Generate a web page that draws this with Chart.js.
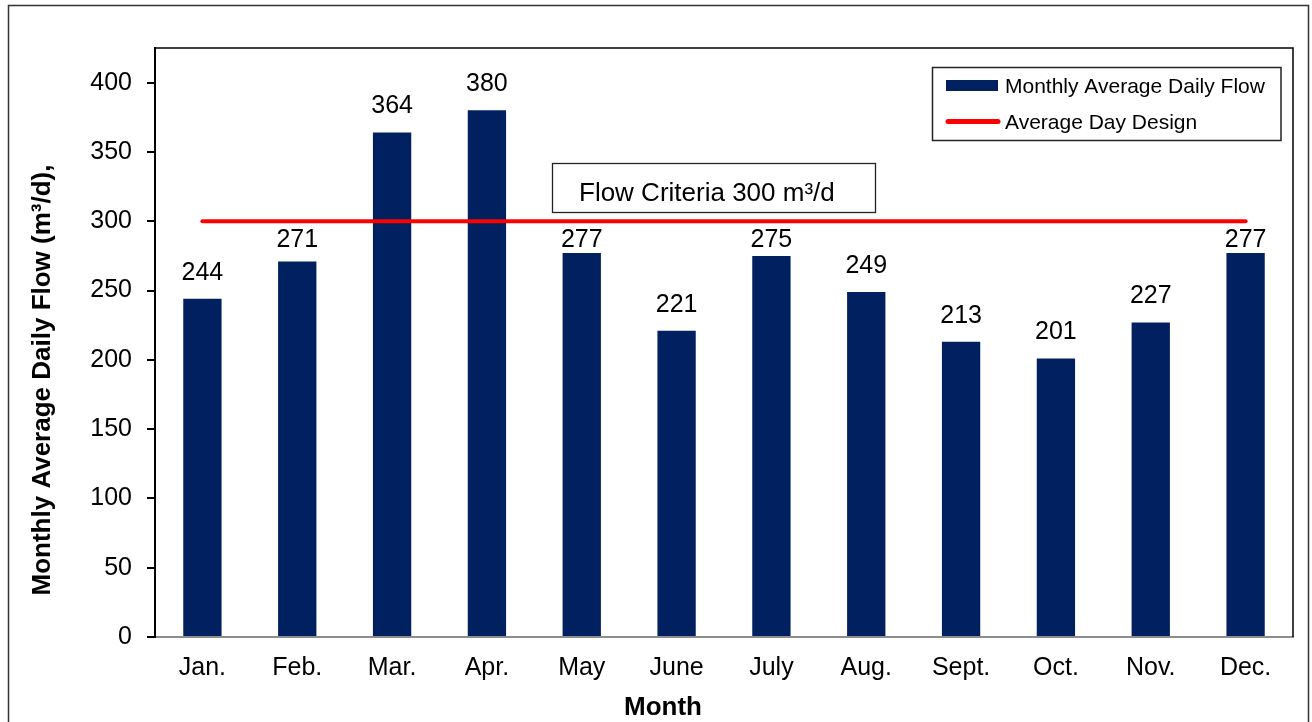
<!DOCTYPE html>
<html>
<head>
<meta charset="utf-8">
<title>Monthly Average Daily Flow</title>
<script src="https://cdn.jsdelivr.net/npm/chart.js@4.4.1/dist/chart.umd.min.js"></script>
<style>
  html, body { margin: 0; padding: 0; background: #ffffff; }
  #wrap { width: 1312px; height: 722px; position: relative; }
</style>
</head>
<body>
<div id="wrap"><canvas id="flowChart" width="1312" height="722"></canvas></div>
<script>
// Monthly flow records (m³/d)
const months = ['Jan.', 'Feb.', 'Mar.', 'Apr.', 'May', 'June', 'July', 'Aug.', 'Sept.', 'Oct.', 'Nov.', 'Dec.'];
const monthlyAverageDailyFlow = [244, 271, 364, 380, 277, 221, 275, 249, 213, 201, 227, 277];
const averageDayDesign = [300, 300, 300, 300, 300, 300, 300, 300, 300, 300, 300, 300];
const yTickValues = [0, 50, 100, 150, 200, 250, 300, 350, 400];
const criteriaText = 'Flow Criteria 300 m³/d';

const FONT = "'Liberation Sans', Arial, Helvetica, sans-serif";
const NAVY = '#002060';
const RED = '#ff0000';

Chart.defaults.font.family = FONT;
Chart.defaults.color = '#000000';

// Page frame, plot frame, value labels, annotation box, legend and axis titles
const decorations = {
  id: 'decorations',
  beforeDraw(chart) {
    const ctx = chart.ctx;
    ctx.save();
    ctx.fillStyle = '#ffffff';
    ctx.fillRect(0, 0, chart.width, chart.height);
    ctx.strokeStyle = '#333333';
    ctx.lineWidth = 1.5;
    ctx.strokeRect(8.5, 5.5, 1300, 740);
    ctx.restore();
  },
  beforeDatasetsDraw(chart) {
    const { ctx, chartArea: a } = chart;
    ctx.save();
    ctx.strokeStyle = '#000000';
    ctx.lineWidth = 1.5;
    ctx.beginPath();
    ctx.moveTo(a.left, a.top);
    ctx.lineTo(a.right, a.top);
    ctx.lineTo(a.right, a.bottom);
    ctx.stroke();
    ctx.restore();
  },
  afterDatasetsDraw(chart) {
    const { ctx } = chart;
    const yScale = chart.scales.y;
    const lineY = yScale.getPixelForValue(averageDayDesign[0]);
    const barMeta = chart.getDatasetMeta(0);

    // value labels above the bars, tucked under the design line when they would touch it
    ctx.save();
    ctx.font = '25px ' + FONT;
    ctx.fillStyle = '#000000';
    ctx.textAlign = 'center';
    ctx.textBaseline = 'middle';
    barMeta.data.forEach((bar, i) => {
      const v = monthlyAverageDailyFlow[i];
      let cy = bar.y - 26;
      if (v < averageDayDesign[i] && cy < lineY + 19) {
        cy = Math.min(lineY + 19, bar.y - 12);
      }
      ctx.fillText(String(v), bar.x, cy);
    });
    ctx.restore();

    // annotation box
    ctx.save();
    ctx.fillStyle = '#ffffff';
    ctx.fillRect(552, 163, 324, 50);
    ctx.strokeStyle = '#222222';
    ctx.lineWidth = 1.3;
    ctx.strokeRect(552.5, 163.5, 323, 49);
    ctx.font = '26px ' + FONT;
    ctx.fillStyle = '#000000';
    ctx.textAlign = 'left';
    ctx.textBaseline = 'alphabetic';
    ctx.fillText(criteriaText, 579, 201);
    ctx.restore();
  },
  afterDraw(chart) {
    const { ctx } = chart;
    ctx.save();

    // legend
    ctx.fillStyle = '#ffffff';
    ctx.fillRect(932, 67, 349, 73);
    ctx.strokeStyle = '#222222';
    ctx.lineWidth = 1.5;
    ctx.strokeRect(932.5, 67.5, 348.5, 73);
    ctx.fillStyle = NAVY;
    ctx.fillRect(946, 80, 52, 11);
    ctx.strokeStyle = RED;
    ctx.lineWidth = 5;
    ctx.lineCap = 'round';
    ctx.beginPath();
    ctx.moveTo(948, 121.5);
    ctx.lineTo(998, 121.5);
    ctx.stroke();
    ctx.font = '21px ' + FONT;
    ctx.fillStyle = '#000000';
    ctx.textAlign = 'left';
    ctx.textBaseline = 'alphabetic';
    ctx.fillText(chart.data.datasets[0].label, 1005, 93);
    ctx.fillText(chart.data.datasets[1].label, 1005, 129);

    // axis titles
    ctx.font = 'bold 26px ' + FONT;
    ctx.textAlign = 'center';
    ctx.fillText('Month', 663, 715);
    ctx.translate(50, 380);
    ctx.rotate(-Math.PI / 2);
    ctx.fillText('Monthly Average Daily Flow (m³/d),', 0, 0);
    ctx.restore();
  }
};

new Chart(document.getElementById('flowChart'), {
  type: 'bar',
  data: {
    labels: months,
    datasets: [
      {
        type: 'bar',
        label: 'Monthly Average Daily Flow',
        data: monthlyAverageDailyFlow,
        backgroundColor: NAVY,
        borderWidth: 0,
        categoryPercentage: 1.0,
        barPercentage: 0.404,
        order: 2
      },
      {
        type: 'line',
        label: 'Average Day Design',
        data: averageDayDesign,
        borderColor: RED,
        borderWidth: 4,
        borderCapStyle: 'round',
        pointRadius: 0,
        pointHoverRadius: 0,
        fill: false,
        tension: 0,
        order: 1
      }
    ]
  },
  options: {
    responsive: false,
    animation: false,
    events: [],
    layout: { padding: { top: 48, right: 19, left: 0, bottom: 0 } },
    plugins: {
      legend: { display: false },
      tooltip: { enabled: false },
      title: { display: false }
    },
    scales: {
      x: {
        offset: true,
        grid: { display: false, drawTicks: false },
        border: { display: true, color: '#8c8c8c', width: 2 },
        ticks: { font: { size: 25 }, color: '#000000', padding: 16, maxRotation: 0, autoSkip: false },
        afterFit(scale) { scale.height = 85; }
      },
      y: {
        min: 0,
        max: 425,
        grid: { drawOnChartArea: false, drawTicks: true, tickLength: 8, color: '#000000', lineWidth: 2 },
        border: { display: true, color: '#000000', width: 2 },
        ticks: { font: { size: 25 }, color: '#000000', padding: 15 },
        afterBuildTicks(scale) { scale.ticks = yTickValues.map(v => ({ value: v })); },
        afterFit(scale) { scale.width = 155; }
      }
    }
  },
  plugins: [decorations]
});
</script>
</body>
</html>
